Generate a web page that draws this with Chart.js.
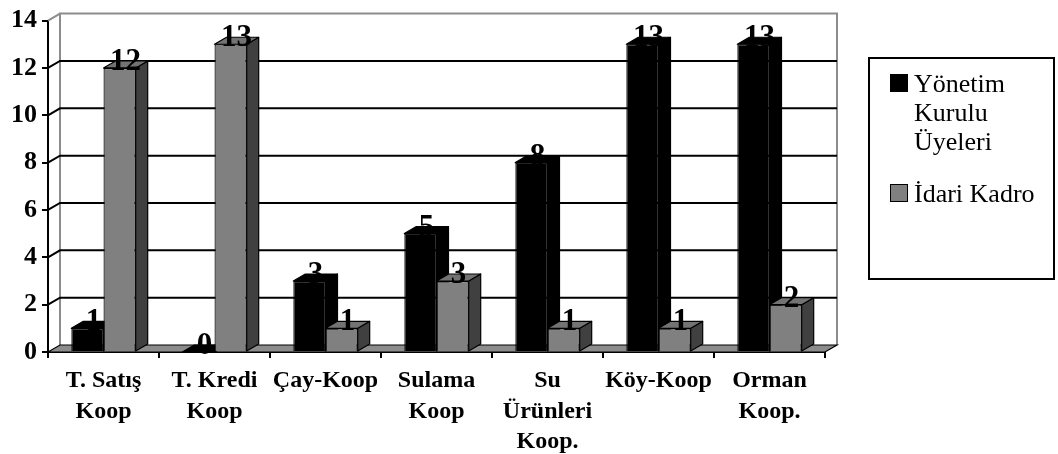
<!DOCTYPE html>
<html>
<head>
<meta charset="utf-8">
<script src="https://cdn.jsdelivr.net/npm/chart.js@4"></script>
<style>
  body { margin: 0; background: #fff; }
  #wrap { position: relative; width: 1058px; height: 454px; }
  #legend {
    position: absolute; left: 868px; top: 57px; width: 187px; height: 223px;
    border: 2px solid #000; box-sizing: border-box; padding: 10px 0 0 20px;
    font-family: "Liberation Serif", "Times New Roman", serif; font-size: 26px; line-height: 29px; color: #000;
  }
  .item { display: flex; align-items: flex-start; margin-bottom: 23px; }
  .sw { width: 18px; height: 18px; box-sizing: border-box; border: 1.5px solid #000; margin: 5px 6px 0 0; flex: none; }
  .txt { width: 135px; }
</style>
</head>
<body>
<div id="wrap">
  <canvas id="c" width="1058" height="454"></canvas>
  <div id="legend"></div>
</div>
<script>
// kategoriler ve seriler
const categories = [
    ['T. Satış', 'Koop'],
    ['T. Kredi', 'Koop'],
    'Çay-Koop',
    ['Sulama', 'Koop'],
    ['Su', 'Ürünleri', 'Koop.'],
    'Köy-Koop',
    ['Orman', 'Koop.']
];
const yonetimKurulu = [1, 0, 3, 5, 8, 13, 13];
const idariKadro = [12, 13, 1, 3, 1, 1, 2];
const seriesLabels = ['Yönetim Kurulu Üyeleri', 'İdari Kadro'];
const yTicks = [0, 2, 4, 6, 8, 10, 12, 14];

const FONT = '"Liberation Serif", "Times New Roman", serif';
const DX = 12, DY = 7; // derinlik

const faceColors = [
    { front: '#000000', side: '#000000', top: '#000000' },
    { front: '#808080', side: '#404040', top: '#737373' }
];

function poly(ctx, pts, fill) {
    ctx.beginPath();
    ctx.moveTo(pts[0][0], pts[0][1]);
    for (let i = 1; i < pts.length; i++) ctx.lineTo(pts[i][0], pts[i][1]);
    ctx.closePath();
    ctx.fillStyle = fill;
    ctx.fill();
    ctx.stroke();
}

function drawFaces(chart, index) {
    const ctx = chart.ctx;
    const meta = chart.getDatasetMeta(index);
    const c = faceColors[index];
    ctx.save();
    ctx.strokeStyle = '#000';
    ctx.lineWidth = 1.2;
    ctx.lineJoin = 'round';
    meta.data.forEach(bar => {
        const p = bar.getProps(['x', 'y', 'base', 'width'], true);
        const l = p.x - p.width / 2, r = p.x + p.width / 2;
        poly(ctx, [[r, p.y], [r + DX, p.y - DY], [r + DX, p.base - DY], [r, p.base]], c.side);
        poly(ctx, [[l, p.y], [l + DX, p.y - DY], [r + DX, p.y - DY], [r, p.y]], c.top);
    });
    ctx.restore();
}

const depthPlugin = {
    id: 'depth',
    beforeDatasetsDraw(chart) {
        const { ctx, chartArea: a, scales: { y } } = chart;
        ctx.save();
        // arka duvar
        ctx.strokeStyle = '#8c8c8c';
        ctx.lineWidth = 2;
        ctx.beginPath();
        ctx.moveTo(a.left + DX, a.bottom - DY);
        ctx.lineTo(a.left + DX, a.top - DY);
        ctx.lineTo(a.right + DX, a.top - DY);
        ctx.lineTo(a.right + DX, a.bottom - DY);
        ctx.moveTo(a.left, a.top);
        ctx.lineTo(a.left + DX, a.top - DY);
        ctx.stroke();
        // ızgara çizgileri
        ctx.strokeStyle = '#000';
        ctx.lineWidth = 2;
        yTicks.forEach(v => {
            if (v === 0 || v === 14) return;
            const py = y.getPixelForValue(v);
            ctx.beginPath();
            ctx.moveTo(a.left, py);
            ctx.lineTo(a.left + DX, py - DY);
            ctx.lineTo(a.right + DX, py - DY);
            ctx.stroke();
        });
        // taban
        ctx.lineWidth = 1.2;
        poly(ctx, [[a.left, a.bottom], [a.left + DX, a.bottom - DY], [a.right + DX, a.bottom - DY], [a.right, a.bottom]], '#8c8c8c');
        ctx.restore();
        drawFaces(chart, 0);
    },
    afterDatasetsDraw(chart) {
        drawFaces(chart, 1);
        const ctx = chart.ctx;
        ctx.save();
        ctx.font = 'bold 31px ' + FONT;
        ctx.fillStyle = '#000';
        ctx.textAlign = 'center';
        ctx.textBaseline = 'alphabetic';
        chart.data.datasets.forEach((ds, i) => {
            chart.getDatasetMeta(i).data.forEach((bar, j) => {
                const p = bar.getProps(['x', 'y'], true);
                ctx.fillText(String(ds.data[j]), p.x + DX / 2, p.y + 2);
            });
        });
        ctx.restore();
    }
};

const chart = new Chart(document.getElementById('c'), {
    type: 'bar',
    data: {
        labels: categories,
        datasets: [
            {
                label: seriesLabels[0],
                data: yonetimKurulu,
                backgroundColor: faceColors[0].front,
                borderColor: '#000',
                borderWidth: 1.2
            },
            {
                label: seriesLabels[1],
                data: idariKadro,
                backgroundColor: faceColors[1].front,
                borderColor: '#000',
                borderWidth: 1.2
            }
        ]
    },
    options: {
        responsive: false,
        animation: false,
        categoryPercentage: 0.58,
        barPercentage: 1.0,
        layout: { padding: { top: 16, right: 233, left: 0, bottom: 0 } },
        plugins: {
            legend: { display: false },
            tooltip: { enabled: false }
        },
        scales: {
            x: {
                afterFit: s => { s.height = 102; },
                grid: { drawOnChartArea: false, offset: true, tickLength: 6, color: '#000', lineWidth: 2 },
                border: { display: true, color: '#000', width: 2 },
                ticks: {
                    autoSkip: false, maxRotation: 0, color: '#000', padding: 8,
                    font: { family: FONT, size: 24, weight: 'bold', lineHeight: 1.27 }
                }
            },
            y: {
                min: 0,
                max: 14,
                afterFit: s => { s.width = 48; },
                afterBuildTicks: s => { s.ticks = yTicks.map(v => ({ value: v })); },
                grid: { drawOnChartArea: false, tickLength: 6, color: '#000', lineWidth: 2 },
                border: { display: true, color: '#000', width: 2 },
                ticks: {
                    color: '#000', padding: 5,
                    font: { family: FONT, size: 26, weight: 'bold' }
                }
            }
        }
    },
    plugins: [depthPlugin]
});

// lejant
const legend = document.getElementById('legend');
chart.data.datasets.forEach(ds => {
    const item = document.createElement('div');
    item.className = 'item';
    const sw = document.createElement('div');
    sw.className = 'sw';
    sw.style.background = ds.backgroundColor;
    const txt = document.createElement('div');
    txt.className = 'txt';
    txt.textContent = ds.label;
    item.appendChild(sw);
    item.appendChild(txt);
    legend.appendChild(item);
});
</script>
</body>
</html>
